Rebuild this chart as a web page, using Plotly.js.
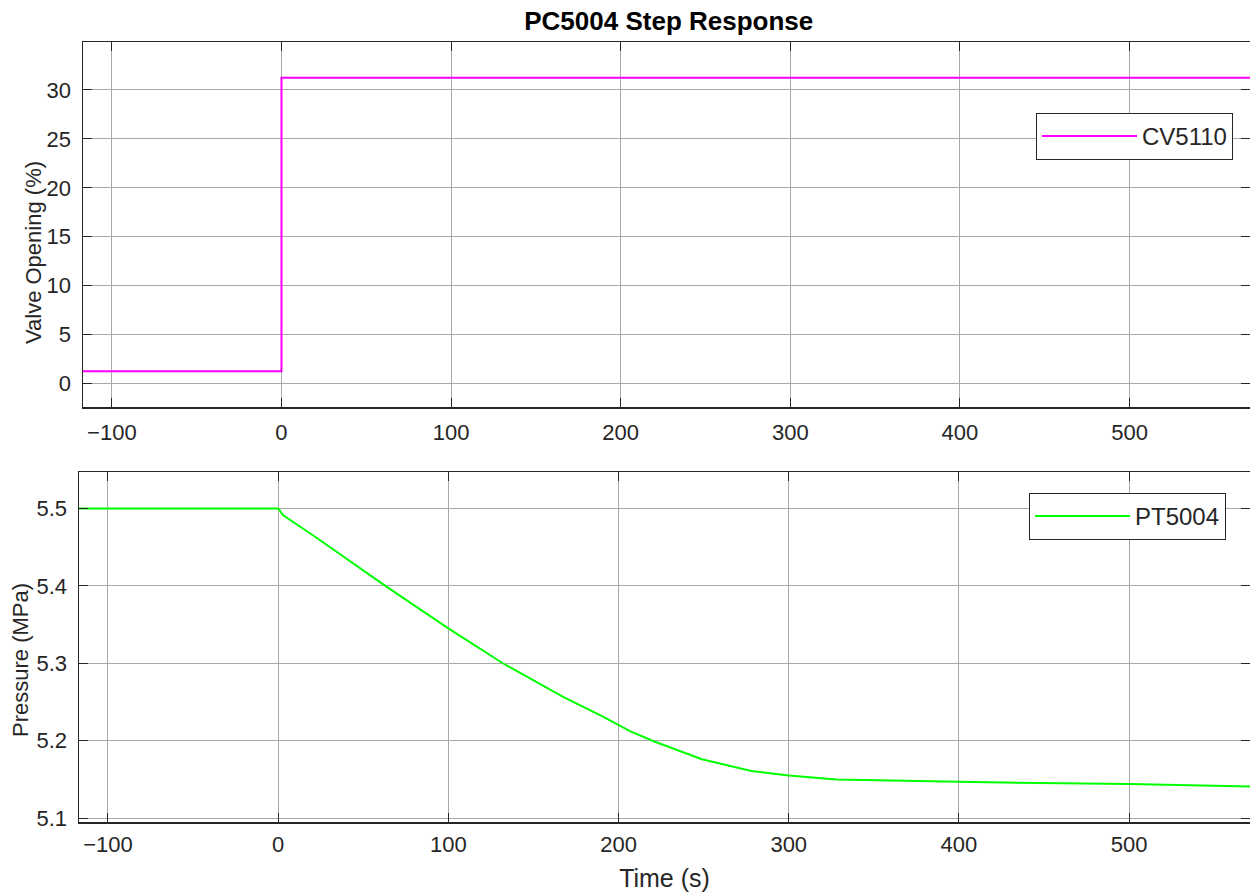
<!DOCTYPE html>
<html>
<head>
<meta charset="utf-8">
<script src="https://cdn.plot.ly/plotly-3.0.1.min.js"></script>
<style>html,body{margin:0;padding:0;background:#fff;}#chart{width:1250px;height:892px;}</style>
</head>
<body>
<div id="chart"></div>
<script>
// Valve opening step (CV5110)
const valveTime = [-117, 0, 0, 571];
const valveOpening = [1.25, 1.25, 31.25, 31.25];

// Pressure response (PT5004)
const pressureTime = [-117, 0, 3, 20, 63, 100, 132, 168, 190, 207, 221, 249, 278, 300, 328, 367, 400, 426, 500, 571];
const pressureValue = [5.5, 5.5, 5.491, 5.466, 5.400, 5.345, 5.300, 5.256, 5.232, 5.212, 5.199, 5.176, 5.161, 5.155, 5.150, 5.148, 5.147, 5.146, 5.144, 5.141];

const xTicks = [-100, 0, 100, 200, 300, 400, 500];
const yTicksTop = [0, 5, 10, 15, 20, 25, 30];
const yTicksBottom = [5.1, 5.2, 5.3, 5.4, 5.5];

const FONT = 'Liberation Sans, Arial, sans-serif';
const TXT = '#262626';
const GRID = '#a9a9a9';

const traces = [
  {x: valveTime, y: valveOpening, type: 'scatter', mode: 'lines', name: 'CV5110',
   line: {color: '#ff00ff', width: 2}, xaxis: 'x', yaxis: 'y', legend: 'legend'},
  {x: pressureTime, y: pressureValue, type: 'scatter', mode: 'lines', name: 'PT5004',
   line: {color: '#00ff00', width: 2}, xaxis: 'x2', yaxis: 'y2', legend: 'legend2'}
];

function xAxis(domain, anchor, standoff) {
  return {
    domain: domain, anchor: anchor, range: [-117, 571],
    tickvals: xTicks, ticks: 'inside', ticklen: 9, tickcolor: TXT, tickwidth: 1,
    showline: true, linecolor: TXT, linewidth: 1.5, mirror: 'ticks',
    showgrid: true, gridcolor: GRID, gridwidth: 1, zeroline: false,
    tickfont: {family: FONT, size: 22, color: TXT}, ticklabelstandoff: standoff
  };
}
function yAxis(domain, anchor, range, ticks) {
  return {
    domain: domain, anchor: anchor, range: range,
    tickvals: ticks, ticks: 'inside', ticklen: 9, tickcolor: TXT, tickwidth: 1,
    showline: true, linecolor: TXT, linewidth: 1.5, mirror: 'ticks',
    showgrid: true, gridcolor: GRID, gridwidth: 1, zeroline: false,
    tickfont: {family: FONT, size: 22, color: TXT}, ticklabelstandoff: 6
  };
}

const xa1 = xAxis([83/1250, 1], 'y', 5);
const xa2 = xAxis([79/1250, 1], 'y2', 2);
xa2.title = {text: 'Time (s)', font: {family: FONT, size: 25, color: TXT}, standoff: 13};

const layout = {
  width: 1250, height: 892,
  margin: {l: 0, r: 0, t: 0, b: 0},
  paper_bgcolor: '#ffffff', plot_bgcolor: '#ffffff',
  font: {family: FONT, color: TXT},
  title: {text: '<b>PC5004 Step Response</b>', font: {family: FONT, size: 26, color: '#000000'},
          x: 0.535, xanchor: 'center', xref: 'paper', y: 1 - 21/892, yanchor: 'middle', yref: 'paper'},
  xaxis: xa1,
  yaxis: yAxis([1 - 407/892, 1 - 42/892], 'x', [-2.4, 34.9], yTicksTop),
  xaxis2: xa2,
  yaxis2: yAxis([1 - 822/892, 1 - 472/892], 'x2', [5.095, 5.547], yTicksBottom),
  annotations: [
    {text: 'Valve Opening (%)', xref: 'paper', yref: 'paper', x: 33/1250, y: 1 - 253/892,
     xanchor: 'center', yanchor: 'middle', textangle: -90, showarrow: false,
     font: {family: FONT, size: 22, color: TXT}},
    {text: 'Pressure (MPa)', xref: 'paper', yref: 'paper', x: 20/1250, y: 1 - 660/892,
     xanchor: 'center', yanchor: 'middle', textangle: -90, showarrow: false,
     font: {family: FONT, size: 22, color: TXT}}
  ],
  legend: {x: 1233/1250, xanchor: 'right', y: 1 - 113/892, yanchor: 'top',
           bgcolor: '#ffffff', bordercolor: '#262626', borderwidth: 1,
           font: {family: FONT, size: 24, color: TXT}, itemwidth: 95},
  legend2: {x: 1226/1250, xanchor: 'right', y: 1 - 493/892, yanchor: 'top',
           bgcolor: '#ffffff', bordercolor: '#262626', borderwidth: 1,
           font: {family: FONT, size: 24, color: TXT}, itemwidth: 95},
  showlegend: true
};

Plotly.newPlot('chart', traces, layout, {staticPlot: true, displayModeBar: false});
</script>
</body>
</html>
